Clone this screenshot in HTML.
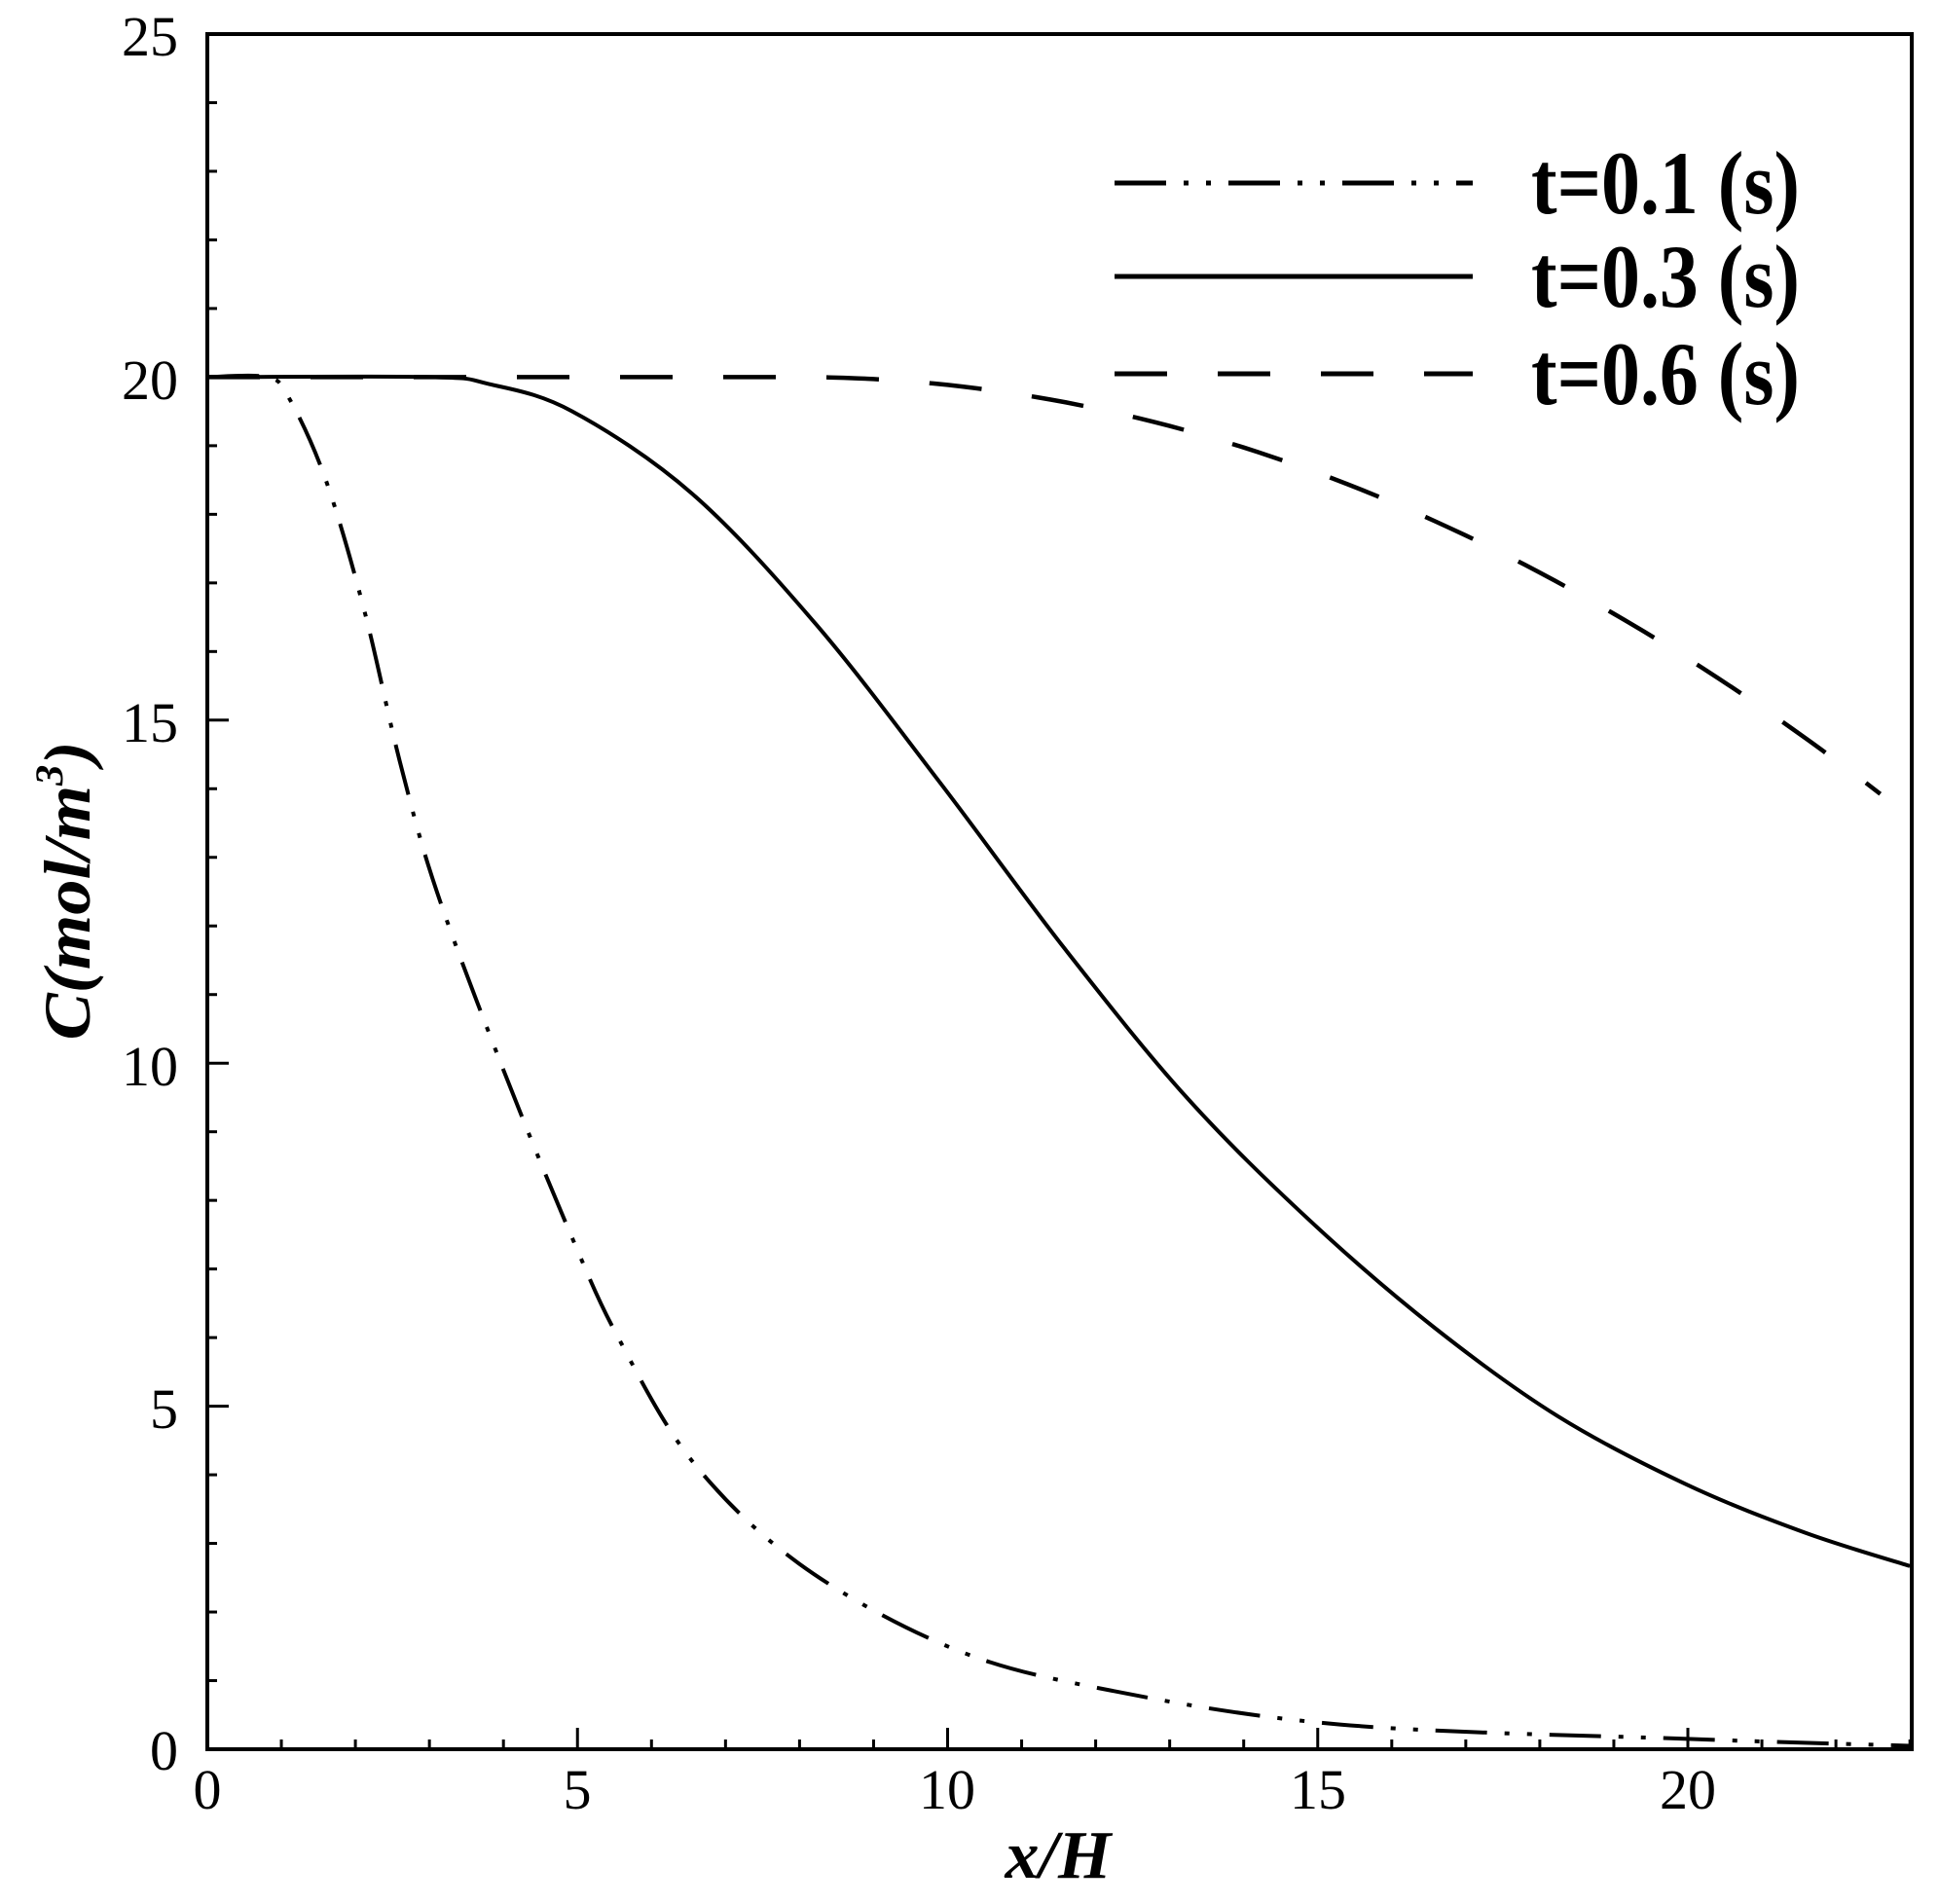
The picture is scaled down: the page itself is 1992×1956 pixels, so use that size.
<!DOCTYPE html>
<html><head><meta charset="utf-8"><style>
html,body{margin:0;padding:0;background:#fff;}
svg{display:block;}
</style></head><body>
<svg id="s" width="1992" height="1956" viewBox="0 0 1992 1956" xmlns="http://www.w3.org/2000/svg">
<rect width="1992" height="1956" fill="#fff"/>
<g id="ticks" stroke="#000" stroke-width="3"></g>
<rect x="213" y="35" width="1751" height="1762" fill="none" stroke="#000" stroke-width="4"/>
<g font-family="Liberation Serif, serif" font-size="58" fill="#000">
<text x="183" y="57" text-anchor="end">25</text>
<text x="183" y="410" text-anchor="end">20</text>
<text x="183" y="762" text-anchor="end">15</text>
<text x="183" y="1115" text-anchor="end">10</text>
<text x="183" y="1467" text-anchor="end">5</text>
<text x="183" y="1818" text-anchor="end">0</text>
<text x="213" y="1858" text-anchor="middle">0</text>
<text x="593" y="1858" text-anchor="middle">5</text>
<text x="973" y="1858" text-anchor="middle">10</text>
<text x="1354" y="1858" text-anchor="middle">15</text>
<text x="1734" y="1858" text-anchor="middle">20</text>
</g>
<text x="1087" y="1929" text-anchor="middle" font-family="Liberation Serif, serif" font-size="70" font-style="italic" font-weight="bold">x/H</text>
<text transform="translate(92,915) rotate(-90)" text-anchor="middle" font-family="Liberation Serif, serif" font-size="68" font-style="italic" font-weight="bold" textLength="307" lengthAdjust="spacingAndGlyphs">C(mol/m<tspan dy="-28" font-size="40">3</tspan><tspan dy="28">)</tspan></text>
<g stroke="#000" stroke-width="5" fill="none">
<line x1="1145" y1="188" x2="1513" y2="188" stroke-dasharray="53 18 5 18 5 18"/>
<line x1="1145" y1="284" x2="1513" y2="284"/>
<line x1="1145" y1="384" x2="1513" y2="384" stroke-dasharray="54 52"/>
</g>
<g font-family="Liberation Serif, serif" font-size="92" font-weight="bold">
<text x="1573" y="219" textLength="276" lengthAdjust="spacingAndGlyphs">t=0.1 (s)</text>
<text x="1573" y="315" textLength="276" lengthAdjust="spacingAndGlyphs">t=0.3 (s)</text>
<text x="1573" y="415" textLength="276" lengthAdjust="spacingAndGlyphs">t=0.6 (s)</text>
</g>
<path id="c1" stroke="#000" stroke-width="4" fill="none" stroke-dasharray="53 18 5 18 5 18"/>
<path id="c3" stroke="#000" stroke-width="4" fill="none"/>
<path id="c6" stroke="#000" stroke-width="4.5" fill="none" stroke-dasharray="54 52"/>
</svg>
<script>
var X0=213,SX=76.05,Y0=1797,SY=70.48;
function px(p){return [X0+p[0]*SX,Y0-p[1]*SY];}
function path(pts){
 var P=pts.map(px),d="M"+P[0][0].toFixed(1)+","+P[0][1].toFixed(1);
 for(var i=0;i<P.length-1;i++){
  var p0=P[Math.max(i-1,0)],p1=P[i],p2=P[i+1],p3=P[Math.min(i+2,P.length-1)];
  var c1=[p1[0]+(p2[0]-p0[0])/6,p1[1]+(p2[1]-p0[1])/6];
  var c2=[p2[0]-(p3[0]-p1[0])/6,p2[1]-(p3[1]-p1[1])/6];
  d+=" C"+c1[0].toFixed(1)+","+c1[1].toFixed(1)+" "+c2[0].toFixed(1)+","+c2[1].toFixed(1)+" "+p2[0].toFixed(1)+","+p2[1].toFixed(1);
 }
 return d;
}
function poly(pts){var P=pts.map(px);return "M"+P.map(function(p){return p[0].toFixed(1)+","+p[1].toFixed(1);}).join(" L");}
document.getElementById("c1").setAttribute("d",path([[0,20],[0.8,20],[1.1,19.7],[1.6,18.5],[2.12,16.6],[2.6,14.4],[3.1,12.5],[4,9.9],[4.93,7.45],[5.55,6.0],[6.55,4.2],[8,2.7],[10,1.5],[12,0.9],[15.3,0.36],[20,0.15],[23,0.05]]));
document.getElementById("c3").setAttribute("d",path([[0,20],[3,20],[3.8,19.9],[4.93,19.5],[6.55,18.3],[8.22,16.4],[9.89,14.1],[11.56,11.7],[13.23,9.5],[14.9,7.7],[16.57,6.15],[18.25,4.85],[20,3.85],[21.6,3.15],[23,2.67]]));
var p6=[[0,20]];
for(var x=8;x<=22.6;x+=0.2){p6.push([x,20-0.0285*(x-8)*(x-8)]);}
document.getElementById("c6").setAttribute("d",poly(p6));
var g=document.getElementById("ticks"),s="";
for(var v=1;v<25;v++){var y=Y0-v*SY,l=(v%5==0)?22:10;s+='<line x1="213" y1="'+y+'" x2="'+(213+l)+'" y2="'+y+'"/>';}
for(var v=1;v<=23;v++){var x=X0+v*SX,l=(v%5==0)?22:10;s+='<line x1="'+x+'" y1="1797" x2="'+x+'" y2="'+(1797-l)+'"/>';}
g.innerHTML=s;
</script>
</body></html>
